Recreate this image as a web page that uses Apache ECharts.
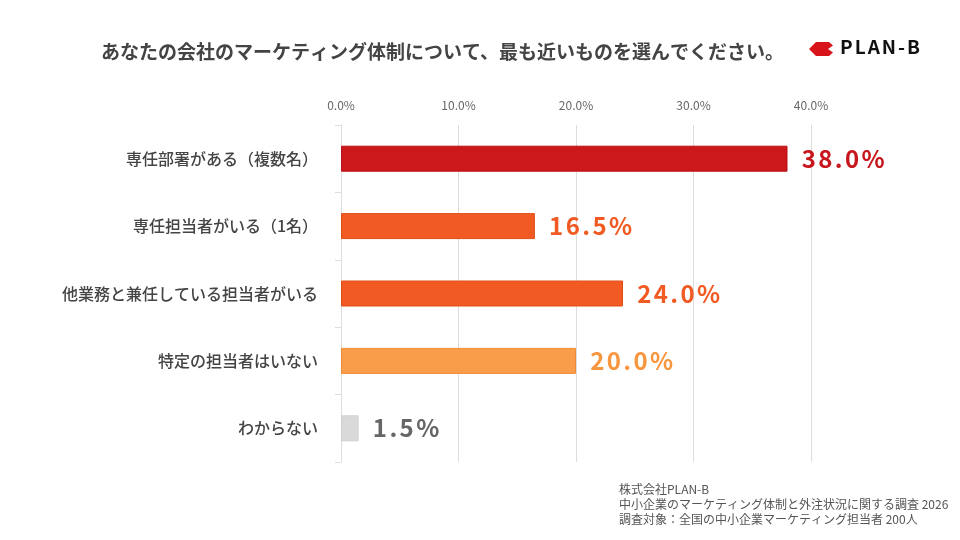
<!DOCTYPE html>
<html>
<head>
<meta charset="utf-8">
<title>マーケティング体制</title>
<script src="https://cdn.jsdelivr.net/npm/echarts@6/dist/echarts.min.js"></script>
<style>
  html, body { margin: 0; padding: 0; background: #fff; }
  #chart { width: 960px; height: 540px; }
</style>
</head>
<body>
<div id="chart"></div>
<script>
  'use strict';

  var categories = [
    '専任部署がある（複数名）',
    '専任担当者がいる（1名）',
    '他業務と兼任している担当者がいる',
    '特定の担当者はいない',
    'わからない'
  ];
  var values = [38.0, 16.5, 24.0, 20.0, 1.5];
  var barColors = ['#CC171B', '#F15A22', '#F15A22', '#FA9D4A', '#D9D9D9'];
  var borderColors = ['#B81316', '#E04E18', '#E04E18', '#F08B35', '#D0D0D0'];
  var labelColors = ['#C8161D', '#F15A22', '#F15A22', '#F7963F', '#666666'];
  var xTicks = [0, 10, 20, 30, 40];

  var titleText = 'あなたの会社のマーケティング体制について、最も近いものを選んでください。';
  var sourceLines = [
    '株式会社PLAN-B',
    '中小企業のマーケティング体制と外注状況に関する調査 2026',
    '調査対象：全国の中小企業マーケティング担当者 200人'
  ];

  var FONT = '"Noto Sans CJK JP", "Noto Sans", sans-serif';

  // spread characters with a little padding each, to mimic letter spacing
  function spaced(str, style) {
    return str.split('').map(function (ch) {
      return '{' + style + '|' + ch + '}';
    }).join('');
  }

  var chart = echarts.init(document.getElementById('chart'));

  var option = {
    backgroundColor: '#ffffff',
    animation: false,
    textStyle: { fontFamily: FONT },
    title: {
      text: titleText,
      left: 96,
      top: 37,
      textStyle: { fontSize: 19, fontWeight: 'bold', color: '#444444', fontFamily: FONT }
    },
    grid: { left: 341, right: 149, top: 125, bottom: 78, containLabel: false },
    xAxis: {
      type: 'value',
      position: 'top',
      min: xTicks[0],
      max: xTicks[xTicks.length - 1],
      interval: 10,
      axisLine: { show: false },
      axisTick: { show: false },
      axisLabel: {
        margin: 14,
        fontSize: 12,
        color: '#666666',
        fontFamily: FONT,
        formatter: function (v) { return v.toFixed(1) + '%'; }
      },
      splitLine: { show: true, lineStyle: { color: '#DDDDDD', width: 1 } }
    },
    yAxis: {
      type: 'category',
      data: categories,
      inverse: true,
      axisLine: { show: true, lineStyle: { color: '#DDDDDD', width: 1 } },
      axisTick: { show: true, length: 6, lineStyle: { color: '#DDDDDD' } },
      axisLabel: {
        margin: 23,
        fontSize: 16,
        fontWeight: 500,
        color: '#444444',
        fontFamily: FONT
      }
    },
    series: [{
      type: 'bar',
      barWidth: 26,
      data: values.map(function (v, i) {
        return {
          value: v,
          itemStyle: { color: barColors[i], borderColor: borderColors[i], borderWidth: 1 },
          label: {
            rich: {
              c: {
                fontSize: 24, fontWeight: 'bold', color: labelColors[i],
                fontFamily: FONT, padding: [0, 1.2, 0, 1.2]
              }
            }
          }
        };
      }),
      label: {
        show: true,
        position: 'right',
        distance: 13,
        formatter: function (p) { return spaced(p.value.toFixed(1) + '%', 'c'); }
      }
    }],
    graphic: [
      {
        type: 'polygon',
        shape: {
          points: [[809, 49], [816, 42], [829, 42], [833, 45.5], [828, 49], [833, 52.5], [829, 56], [816, 56]]
        },
        style: { fill: '#D7141A' }
      },
      {
        type: 'text',
        left: 840,
        top: 37,
        style: {
          text: spaced('PLAN-B', 'p'),
          rich: {
            p: { fontSize: 19, fontWeight: 'bold', fill: '#111111', fontFamily: FONT, padding: [0, 1, 0, 1] }
          }
        }
      },
      {
        type: 'text',
        left: 619,
        top: 482,
        style: {
          text: sourceLines.join('\n'),
          fontSize: 12,
          lineHeight: 15,
          fill: '#555555',
          fontFamily: FONT
        }
      }
    ]
  };

  chart.setOption(option);
  window.addEventListener('resize', function () { chart.resize(); });
</script>
</body>
</html>
